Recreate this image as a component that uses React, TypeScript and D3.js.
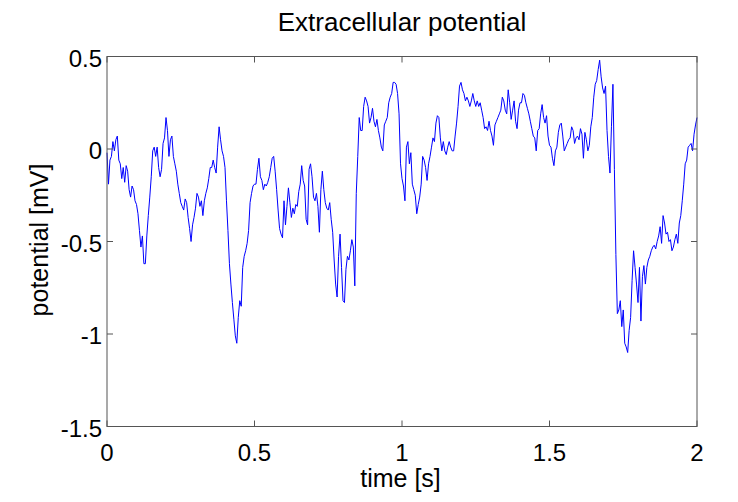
import React from "react";
import * as d3 from "d3";

const timeStart = 0;
const timeStep = 0.005;
const potential: number[] = [
  -0.02, -0.19, -0.06, -0.04, 0.04, -0.01, 0.05, 0.07, -0.06, -0.08,
  -0.16, -0.1, -0.18, -0.09, -0.12, -0.22, -0.26, -0.2, -0.22, -0.28,
  -0.3, -0.35, -0.44, -0.53, -0.47, -0.62, -0.62, -0.47, -0.36, -0.26,
  -0.15, -0.01, 0.01, -0.04, 0.01, -0.1, -0.15, -0.11, 0.03, 0.06,
  0.17, 0.1, -0.04, 0.05, 0.07, -0.04, -0.08, -0.12, -0.19, -0.24,
  -0.29, -0.31, -0.33, -0.27, -0.29, -0.37, -0.43, -0.5, -0.41, -0.37,
  -0.32, -0.24, -0.26, -0.31, -0.28, -0.36, -0.28, -0.24, -0.21, -0.16,
  -0.1, -0.1, -0.06, -0.1, -0.13, 0.01, 0.12, 0.05, -0.01, -0.04,
  -0.1, -0.28, -0.44, -0.62, -0.73, -0.83, -0.92, -1.01, -1.05, -0.91,
  -0.82, -0.85, -0.64, -0.58, -0.55, -0.51, -0.44, -0.29, -0.24, -0.2,
  -0.19, -0.19, -0.11, -0.05, -0.15, -0.17, -0.22, -0.19, -0.2, -0.18,
  -0.15, -0.1, -0.05, -0.04, -0.12, -0.22, -0.33, -0.43, -0.46, -0.48,
  -0.28, -0.41, -0.31, -0.21, -0.29, -0.37, -0.32, -0.35, -0.3, -0.31,
  -0.23, -0.19, -0.09, -0.17, -0.2, -0.38, -0.41, -0.11, -0.08, -0.15,
  -0.26, -0.28, -0.24, -0.31, -0.45, -0.22, -0.12, -0.22, -0.29, -0.32,
  -0.33, -0.29, -0.38, -0.45, -0.6, -0.73, -0.8, -0.58, -0.46, -0.64,
  -0.82, -0.83, -0.65, -0.58, -0.6, -0.55, -0.49, -0.53, -0.74, -0.24,
  -0.04, 0.17, 0.1, 0.1, 0.23, 0.28, 0.26, 0.23, 0.14, 0.17,
  0.22, 0.15, 0.12, 0.16, 0.1, 0.06, 0.01, -0.01, 0.13, 0.15,
  0.17, 0.25, 0.28, 0.3, 0.36, 0.36, 0.35, 0.3, 0.19, -0.08,
  -0.16, -0.2, -0.28, 0.01, 0.04, -0.08, -0.02, -0.19, -0.22, -0.25,
  -0.35, -0.3, -0.26, -0.19, -0.04, -0.06, -0.1, -0.17, -0.08, -0.04,
  0.01, 0.06, 0.04, 0.14, 0.18, 0.17, 0.06, -0.01, 0.04, -0.01,
  -0.03, 0.01, 0.04, 0.01, -0.01, -0.01, 0.07, 0.14, 0.23, 0.34,
  0.36, 0.32, 0.3, 0.26, 0.28, 0.26, 0.23, 0.26, 0.3, 0.26,
  0.23, 0.26, 0.23, 0.25, 0.21, 0.17, 0.11, 0.12, 0.1, 0.15,
  0.1, 0.07, 0.02, 0.13, 0.15, 0.17, 0.19, 0.21, 0.28, 0.26,
  0.21, 0.19, 0.32, 0.25, 0.16, 0.21, 0.26, 0.15, 0.11, 0.21,
  0.25, 0.25, 0.3, 0.29, 0.25, 0.22, 0.19, 0.15, 0.11, 0.07,
  0.06, -0.01, 0.1, 0.11, 0.19, 0.24, 0.17, 0.14, 0.18, 0.07,
  0.02, 0.01, -0.05, -0.09, -0.01, 0.01, 0.09, 0.13, 0.14, 0.07,
  -0.01, 0.01, 0.03, 0.05, 0.06, 0.12, 0.1, 0.03, 0.06, 0.07,
  0.05, 0.11, 0.08, -0.05, 0.09, 0.05, -0.01, 0.02, 0.12, 0.17,
  0.28, 0.35, 0.37, 0.43, 0.48, 0.39, 0.33, 0.3, 0.34, 0.1,
  -0.04, -0.13, 0.12, 0.35, -0.11, -0.57, -0.89, -0.87, -0.82, -0.96,
  -0.87, -1.05, -1.07, -1.1, -0.98, -0.91, -0.71, -0.55, -0.64, -0.73,
  -0.83, -0.64, -0.93, -0.69, -0.63, -0.73, -0.64, -0.6, -0.58, -0.55,
  -0.53, -0.52, -0.54, -0.5, -0.47, -0.42, -0.51, -0.36, -0.4, -0.46,
  -0.45, -0.5, -0.49, -0.55, -0.53, -0.49, -0.46, -0.51, -0.4, -0.36,
  -0.28, -0.19, -0.08, -0.06, 0.01, 0.02, 0.03, -0.01, 0.08, 0.13,
  0.17,
];

const xTicks = [0, 0.5, 1, 1.5, 2];
const yTicks = [0.5, 0, -0.5, -1, -1.5];
const xTickLabels = ["0", "0.5", "1", "1.5", "2"];
const yTickLabels = ["0.5", "0", "-0.5", "-1", "-1.5"];
const titleText = "Extracellular potential";
const xLabel = "time [s]";
const yLabel = "potential [mV]";

const W = 738;
const H = 502;
const left = 107;
const right = 697;
const top = 56.5;
const bottom = 426.5;
const font = "'Liberation Sans', Arial, Helvetica, sans-serif";

export default function App() {
  const x = d3.scaleLinear().domain([0, 2]).range([left, right]);
  const y = d3.scaleLinear().domain([-1.5, 0.5]).range([bottom, top]);
  const data = potential.map((v, i) => [timeStart + i * timeStep, v] as [number, number]);
  const line = d3
    .line<[number, number]>()
    .x((d) => x(d[0]))
    .y((d) => y(d[1]));
  const tickLen = 6;
  const axisColor = "#555";
  return (
    <svg
      width={W}
      height={H}
      style={{ position: "absolute", left: 0, top: 0, background: "#fff" }}
    >
      <rect x={0} y={0} width={W} height={H} fill="#fff" />
      <path d={line(data) || ""} fill="none" stroke="#0000ff" strokeWidth={1} />
      <rect
        x={left}
        y={top}
        width={right - left}
        height={bottom - top}
        fill="none"
        stroke={axisColor}
        strokeWidth={1}
      />
      {xTicks.map((t, i) => (
        <g key={"xt" + i}>
          <line x1={x(t)} x2={x(t)} y1={bottom} y2={bottom - tickLen} stroke={axisColor} />
          <line x1={x(t)} x2={x(t)} y1={top} y2={top + tickLen} stroke={axisColor} />
          <text
            x={x(t)}
            y={461}
            textAnchor="middle"
            fontFamily={font}
            fontSize={24}
            fill="#000"
          >
            {xTickLabels[i]}
          </text>
        </g>
      ))}
      {yTicks.map((t, i) => (
        <g key={"yt" + i}>
          <line x1={left} x2={left + tickLen} y1={y(t)} y2={y(t)} stroke={axisColor} />
          <line x1={right} x2={right - tickLen} y1={y(t)} y2={y(t)} stroke={axisColor} />
          <text
            x={left - 5}
            y={y(t) + 10}
            textAnchor="end"
            fontFamily={font}
            fontSize={24}
            fill="#000"
          >
            {yTickLabels[i]}
          </text>
        </g>
      ))}
      <text
        x={(left + right) / 2}
        y={31}
        textAnchor="middle"
        fontFamily={font}
        fontSize={26}
        fill="#000"
      >
        {titleText}
      </text>
      <text
        x={400.5}
        y={487}
        textAnchor="middle"
        fontFamily={font}
        fontSize={25}
        fill="#000"
      >
        {xLabel}
      </text>
      <text
        transform={`translate(48, 240) rotate(-90)`}
        textAnchor="middle"
        fontFamily={font}
        fontSize={25}
        fill="#000"
      >
        {yLabel}
      </text>
    </svg>
  );
}
